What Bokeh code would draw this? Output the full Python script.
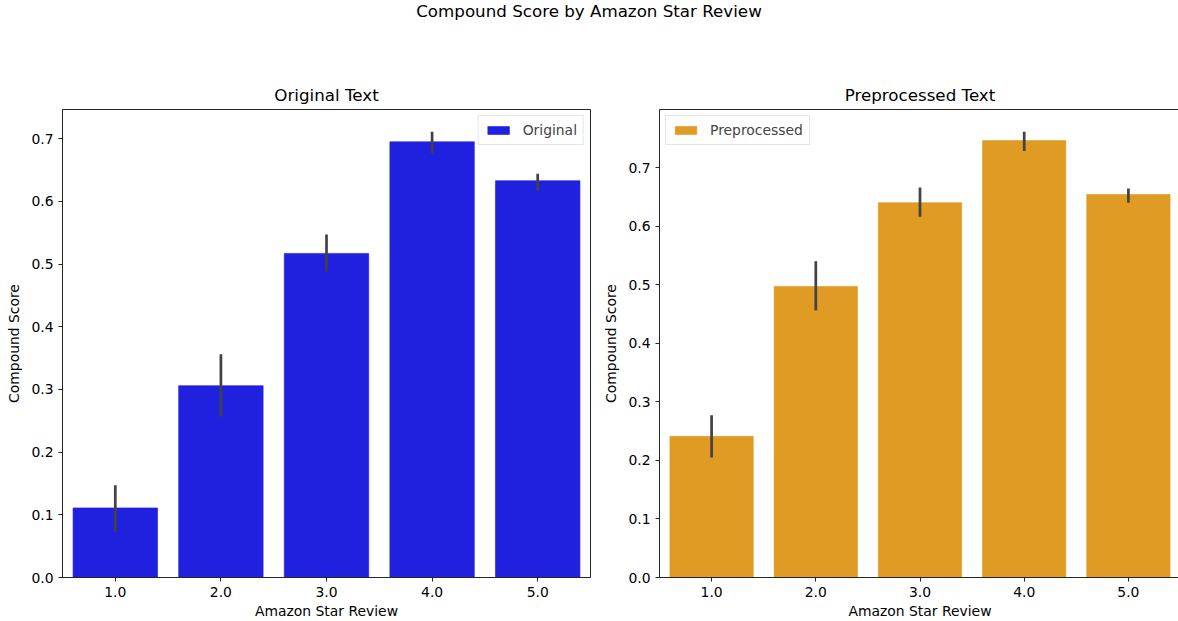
from bokeh.plotting import figure
from bokeh.layouts import column, row
from bokeh.models import Div, Range1d, FactorRange, SingleIntervalTicker, NumeralTickFormatter, Legend, LegendItem
from bokeh.embed import file_html
from bokeh.resources import INLINE

# ---- data ----
stars = ["1.0", "2.0", "3.0", "4.0", "5.0"]
orig_mean = [0.111, 0.306, 0.517, 0.695, 0.633]
orig_lo = [0.073, 0.257, 0.488, 0.677, 0.616]
orig_hi = [0.147, 0.356, 0.547, 0.711, 0.644]
prep_mean = [0.241, 0.497, 0.640, 0.746, 0.654]
prep_lo = [0.205, 0.456, 0.616, 0.728, 0.640]
prep_hi = [0.277, 0.540, 0.666, 0.761, 0.664]

FONT = "DejaVu Sans"
ERR = "#424242"
SPINE = "#262626"


def make_panel(title, mean, lo, hi, color, label, loc, mleft, mright, fwidth):
    p = figure(x_range=FactorRange(*stars), y_range=Range1d(0, max(hi) * 1.05),
               frame_width=fwidth, frame_height=468,
               min_border_left=mleft, min_border_right=mright,
               min_border_top=73, min_border_bottom=30,
               output_backend="svg", toolbar_location=None, title=title)
    p.title.text_font = FONT
    p.title.text_font_size = "16.7px"
    p.title.text_font_style = "normal"
    p.title.align = "center"
    p.title.text_color = "#000000"
    r = p.vbar(x=stars, top=mean, width=0.8, fill_color=color, line_color=color, line_alpha=0.6)
    p.segment(x0=stars, y0=lo, x1=stars, y1=hi, line_color=ERR, line_width=2.7)
    p.xgrid.visible = False
    p.ygrid.visible = False
    p.outline_line_color = SPINE
    p.outline_line_width = 1
    p.outline_line_alpha = 1
    p.yaxis.ticker = SingleIntervalTicker(interval=0.1)
    p.yaxis.formatter = NumeralTickFormatter(format="0.0")
    for ax in (p.xaxis[0], p.yaxis[0]):
        ax.axis_line_color = SPINE
        ax.major_tick_line_color = SPINE
        ax.major_tick_out = 4
        ax.major_tick_in = 0
        ax.minor_tick_line_color = None
        ax.major_label_text_font = FONT
        ax.major_label_text_font_size = "13.9px"
        ax.major_label_text_color = "#000000"
        ax.axis_label_text_font = FONT
        ax.axis_label_text_font_size = "13.9px"
        ax.axis_label_text_font_style = "normal"
        ax.axis_label_text_color = "#000000"
    p.xaxis.major_label_standoff = 5
    p.xaxis.axis_label_standoff = 3
    p.yaxis.major_label_standoff = 5
    p.yaxis.axis_label_standoff = 6
    p.xaxis.axis_label = "Amazon Star Review"
    p.yaxis.axis_label = "Compound Score"
    legend = Legend(items=[LegendItem(label=label, renderers=[r])], location=loc)
    legend.label_text_font = FONT
    legend.label_text_font_size = "13.9px"
    legend.glyph_width = 27
    legend.glyph_height = 10
    legend.label_standoff = 11
    legend.border_line_color = "#cccccc"
    legend.margin = 6
    legend.padding = 6
    legend.spacing = 0
    p.add_layout(legend)
    return p


p1 = make_panel("Original Text", orig_mean, orig_lo, orig_hi, "#2020df", "Original", "top_right", 62, 10, 528)
p2 = make_panel("Preprocessed Text", prep_mean, prep_lo, prep_hi, "#df9b23", "Preprocessed", "top_left", 56, 1, 521)

title = Div(text="Compound Score by Amazon Star Review", width=1178, height=36, margin=(0, 0, 0, 0),
            styles={"text-align": "center", "font-family": FONT, "font-size": "16.7px", "color": "#000",
                    "width": "1178px"})

layout = column(title, row(p1, p2))
open("out.html", "w").write(file_html(layout, INLINE))
